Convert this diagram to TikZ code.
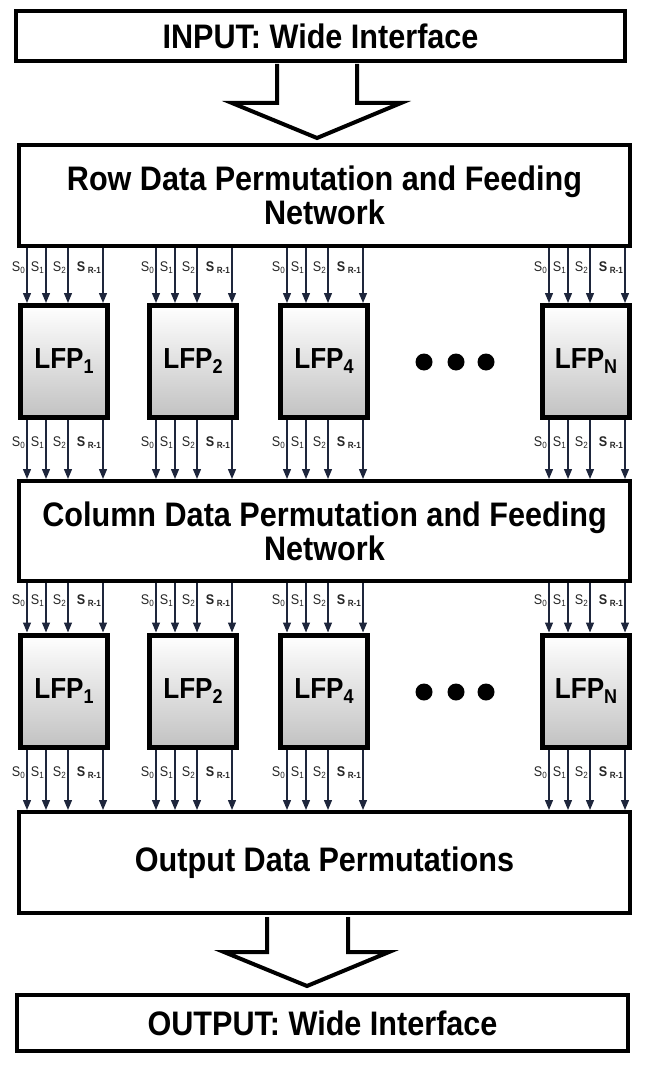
\documentclass[tikz,border=0pt]{standalone}
\usepackage{fontspec}
\setmainfont{Liberation Sans}
\newfontfamily\narrowsans[FakeStretch=0.9]{Liberation Sans}
\usetikzlibrary{arrows.meta,shadows,calc}
\definecolor{sigcol}{RGB}{30,38,60}
\newcommand\sgA{S\raisebox{-2pt}{\fontsize{9}{10}\selectfont 0}}
\newcommand\sgB{S\raisebox{-2pt}{\fontsize{9}{10}\selectfont 1}}
\newcommand\sgC{S\raisebox{-2pt}{\fontsize{9}{10}\selectfont 2}}
\newcommand\sgD{{\bfseries S\hspace{2.5pt}\raisebox{-2pt}{\fontsize{9}{10}\selectfont R-1}}}
\newcommand\lfpsub[1]{\bfseries LFP\raisebox{-5pt}{\fontsize{20}{22}\selectfont #1}}
\begin{document}
\begin{tikzpicture}[x=1pt,y=-1pt,
  bigbox/.style={draw=black, line width=4pt, fill=white, inner sep=0pt, align=center,
    font=\narrowsans\bfseries\fontsize{34}{34}\selectfont},
  lfp/.style={draw=black, line width=5pt, top color=white, bottom color=black!24,
    minimum width=87pt, minimum height=112pt, inner sep=0pt,
    drop shadow={shadow xshift=2.5pt, shadow yshift=-2.5pt, fill=black!35, opacity=0.6},
    font=\narrowsans\fontsize{29}{30}\selectfont},
  sig/.style={draw=sigcol, line width=1.3pt, -{Triangle[width=8pt,length=10pt]}},
  lbl/.style={anchor=east, inner sep=1pt, xshift=-0.5pt, text=black!85,
    font=\narrowsans\fontsize{14}{15}\selectfont},
  blockarrow/.style={draw=black, line width=4pt, fill=white, line join=miter},
  dot/.style={circle, fill=black, inner sep=0pt, minimum size=17pt}
]
\useasboundingbox (0,0) rectangle (651,1067);

% big boxes
\node[bigbox, minimum width=609pt, minimum height=50pt] (input) at (320.5,36) {INPUT: Wide Interface};
\node[bigbox, minimum width=611pt, minimum height=101pt] (row) at (324.5,195.5) {Row Data Permutation and Feeding\\Network};
\node[bigbox, minimum width=611pt, minimum height=100pt] (col) at (324.5,531) {Column Data Permutation and Feeding\\Network};
\node[bigbox, minimum width=611pt, minimum height=101pt] (outp) at (324.5,862.5) {Output Data Permutations};
\node[bigbox, minimum width=611pt, minimum height=56pt] (output) at (322.5,1023) {OUTPUT: Wide Interface};

% LFP boxes
\node[lfp] (a1) at (64,361.5) {\lfpsub{1}};
\node[lfp] (a2) at (193,361.5) {\lfpsub{2}};
\node[lfp] (a4) at (324,361.5) {\lfpsub{4}};
\node[lfp] (aN) at (586,361.5) {\lfpsub{N}};
\node[lfp] (b1) at (64,691) {\lfpsub{1}};
\node[lfp] (b2) at (193,691) {\lfpsub{2}};
\node[lfp] (b4) at (324,691) {\lfpsub{4}};
\node[lfp] (bN) at (586,691) {\lfpsub{N}};

% dots
\node[dot] (da1) at (424,362) {};
\node[dot] (da2) at (456,362) {};
\node[dot] (da3) at (486,362) {};
\node[dot] (db1) at (424,692) {};
\node[dot] (db2) at (456,692) {};
\node[dot] (db3) at (486,692) {};

% signal arrows
\foreach \bx/\up/\dn in {a1/row/col,a2/row/col,a4/row/col,aN/row/col,b1/col/outp,b2/col/outp,b4/col/outp,bN/col/outp}{
  \foreach \dx/\lab [count=\i] in {9/\sgA,28/\sgB,50/\sgC,85/\sgD}{
    \coordinate (\bx t\i) at ($(\bx.north west)+(\dx,0)$);
    \coordinate (\bx b\i) at ($(\bx.south west)+(\dx,0)$);
    \draw[sig] (\bx t\i |- \up.south) -- node[lbl,pos=0.36]{\lab} (\bx t\i);
    \draw[sig] (\bx b\i) -- node[lbl,pos=0.38]{\lab} (\bx b\i |- \dn.north);
  }
}

% block arrows
\draw[blockarrow] (277,64) -- (277,103) -- (232,103) -- (317,138) -- (401,103) -- (357,103) -- (357,64);
\draw[blockarrow] (267,917) -- (267,952) -- (224,952) -- (307,986) -- (389,952) -- (348,952) -- (348,917);
\end{tikzpicture}
\end{document}
